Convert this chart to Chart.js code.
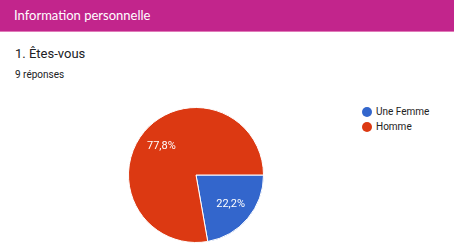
<!DOCTYPE html>
<html>
<head>
<meta charset="utf-8">
<script src="https://cdn.jsdelivr.net/npm/chart.js@4.4.1/dist/chart.umd.min.js"></script>
<style>
  body { margin: 0; width: 454px; height: 248px; background: #fff; font-family: Roboto, Arial, sans-serif; overflow: hidden; position: relative; }
  #header { position: absolute; left: 0; top: 0; width: 454px; height: 31px; background: #c2258c; border-bottom: 1px solid #e07ab8; }
  #header span { position: absolute; left: 14px; top: 7px; color: #fff; font-size: 13px; font-family: Lato, Roboto, sans-serif; }
  #title { position: absolute; left: 15px; top: 46px; font-size: 13px; color: #202124; }
  #count { position: absolute; left: 15px; top: 69px; font-size: 10px; color: #202124; }
  #chartBox { position: absolute; left: 128px; top: 107px; width: 136px; height: 136px; }
  #legend { position: absolute; left: 362px; top: 104px; font-size: 10px; color: #222; }
  #legend div { height: 15px; line-height: 15px; display: flex; align-items: center; }
  #legend i { display: inline-block; width: 10px; height: 10px; border-radius: 50%; margin-right: 4px; }
</style>
</head>
<body>
<div id="header"><span>Information personnelle</span></div>
<div id="title">1. Êtes-vous</div>
<div id="count">9 réponses</div>
<div id="chartBox"><canvas id="pieChart" width="136" height="136"></canvas></div>
<div id="legend"></div>
<script>
const labels = ['Une Femme', 'Homme'];
const counts = [2, 7];
const percentLabels = ['22,2%', '77,8%'];
const colors = ['#3366cc', '#dc3912'];

document.addEventListener('DOMContentLoaded', function() {
    const ctx = document.getElementById('pieChart').getContext('2d');

    // labels des pourcentages dans les parts
    const sliceLabels = {
        id: 'sliceLabels',
        afterDatasetsDraw(chart) {
            const c = chart.ctx;
            const arcs = chart.getDatasetMeta(0).data;
            c.save();
            c.fillStyle = '#fff';
            c.font = '11px Roboto, Arial, sans-serif';
            c.textAlign = 'center';
            c.textBaseline = 'middle';
            arcs.forEach((arc, i) => {
                const mid = (arc.startAngle + arc.endAngle) / 2;
                const r = arc.outerRadius * 0.67;
                c.fillText(percentLabels[i], arc.x + Math.cos(mid) * r, arc.y + Math.sin(mid) * r);
            });
            c.restore();
        }
    };

    new Chart(ctx, {
        type: 'pie',
        data: {
            labels: labels,
            datasets: [{
                data: counts,
                backgroundColor: colors,
                borderColor: '#fff',
                borderWidth: 1,
                hoverOffset: 0
            }]
        },
        options: {
            responsive: false,
            animation: false,
            rotation: 90,
            layout: { padding: 0 },
            plugins: { legend: { display: false }, tooltip: { enabled: false } }
        },
        plugins: [sliceLabels]
    });

    const legend = document.getElementById('legend');
    labels.forEach((l, i) => {
        const row = document.createElement('div');
        row.innerHTML = '<i style="background:' + colors[i] + '"></i>' + l;
        legend.appendChild(row);
    });
});
</script>
</body>
</html>
